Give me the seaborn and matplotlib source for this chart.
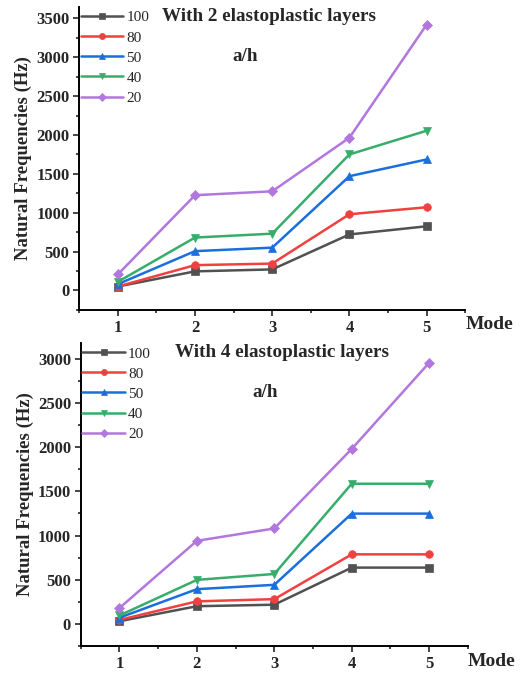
import numpy as np
import pandas as pd
import matplotlib
matplotlib.use("Agg")
import matplotlib.pyplot as plt
from matplotlib.ticker import MultipleLocator
import seaborn as sns

modes = [1, 2, 3, 4, 5]
ratios = ["100", "80", "50", "40", "20"]

# Natural frequencies (Hz), two elastoplastic layers
freq_2_layers = {
    "100": [50, 245, 270, 720, 825],
    "80": [50, 325, 345, 980, 1070],
    "50": [80, 505, 550, 1470, 1685],
    "40": [110, 680, 730, 1750, 2055],
    "20": [205, 1225, 1275, 1965, 3420],
}
# Natural frequencies (Hz), four elastoplastic layers
freq_4_layers = {
    "100": [30, 200, 217, 637, 637],
    "80": [45, 255, 280, 787, 787],
    "50": [70, 393, 442, 1248, 1248],
    "40": [95, 498, 565, 1586, 1586],
    "20": [180, 940, 1080, 1980, 2955],
}

colors = ["#515151", "#F14040", "#1A6FDF", "#37AD6B", "#B177DE"]
markers = ["s", "o", "^", "v", "D"]

sns.set_theme(style="ticks")
plt.rcParams["font.family"] = ["Liberation Serif", "DejaVu Serif"]


def to_frame(freqs):
    rows = []
    for r in ratios:
        for m, f in zip(modes, freqs[r]):
            rows.append({"Mode": m, "Freq": f, "a/h": r})
    return pd.DataFrame(rows)


fig = plt.figure(figsize=(5.21, 6.75), dpi=100)
ax1 = fig.add_axes([0.152, 0.541, 0.741, 0.449])
ax2 = fig.add_axes([0.155, 0.043, 0.743, 0.449])

panels = [
    (ax1, freq_2_layers, "With 2 elastoplastic layers", (-250, 3650), (0.215, 0.43)),
    (ax2, freq_4_layers, "With 4 elastoplastic layers", (-250, 3180), (0.243, 0.475)),
]

for ax, freqs, title, ylim, (tx, ax_x) in panels:
    df = to_frame(freqs)
    sns.lineplot(
        data=df, x="Mode", y="Freq", hue="a/h", style="a/h",
        hue_order=ratios, style_order=ratios,
        palette=dict(zip(ratios, colors)),
        markers=dict(zip(ratios, markers)),
        dashes=False, linewidth=1.8, markersize=5.5,
        ax=ax,
    )
    for line in ax.get_lines():
        line.set_markeredgecolor(line.get_color())
        line.set_markeredgewidth(0.5)
    ax.set_xlim(0.5, 5.5)
    ax.set_ylim(*ylim)
    ax.xaxis.set_major_locator(MultipleLocator(1))
    ax.xaxis.set_minor_locator(MultipleLocator(0.5))
    ax.yaxis.set_major_locator(MultipleLocator(500))
    ax.yaxis.set_minor_locator(MultipleLocator(250))
    ax.tick_params(which="major", direction="out", length=4, width=1.2,
                   labelsize=12, pad=3)
    ax.tick_params(which="minor", direction="out", length=2.5, width=1.2)
    for lbl in ax.get_xticklabels() + ax.get_yticklabels():
        lbl.set_fontweight("bold")
    for side in ["top", "right"]:
        ax.spines[side].set_visible(False)
    for side in ["left", "bottom"]:
        ax.spines[side].set_linewidth(1.4)
        ax.spines[side].set_color("black")
    ax.set_xlabel("")
    ax.set_ylabel("Natural Frequencies (Hz)", fontsize=13.5, fontweight="bold",
                  labelpad=3)
    ax.text(1.0, -0.05, "Mode", transform=ax.transAxes, ha="left",
            va="center", fontsize=14, fontweight="bold")
    ax.text(tx, 0.967, title, transform=ax.transAxes, ha="left",
            va="center", fontsize=13.8, fontweight="bold")
    ax.text(ax_x, 0.836, "a/h", transform=ax.transAxes, ha="center",
            va="center", fontsize=13.8, fontweight="bold")
    leg = ax.legend(loc="upper left", bbox_to_anchor=(-0.02, 1.017),
                    frameon=False, fontsize=11, handlelength=2.8,
                    handletextpad=0.2, labelspacing=0.42, borderaxespad=0.2,
                    markerscale=0.8)
    for h in leg.legend_handles:
        h.set_markeredgecolor(h.get_color())

fig.savefig("out.png", dpi=100)
